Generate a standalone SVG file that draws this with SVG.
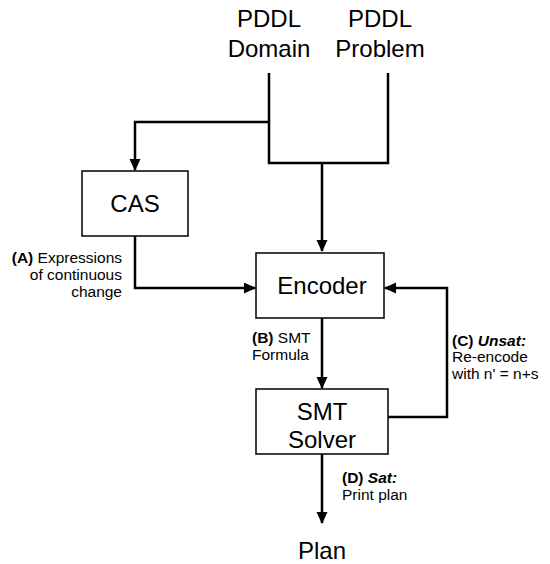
<svg xmlns="http://www.w3.org/2000/svg" width="550" height="564" viewBox="0 0 550 564">
<defs>
<marker id="ah" markerWidth="12" markerHeight="12" refX="11" refY="5.5" orient="auto" markerUnits="userSpaceOnUse"><path d="M0,0 L12,5.5 L0,11 z" fill="#000"/></marker>
<style>
.box{fill:#fff;stroke:#000;stroke-width:1.5}
.big{font-family:"Liberation Sans",Arial,sans-serif;font-size:24px;fill:#000;text-anchor:middle}
.lbl{font-family:"Liberation Sans",Arial,sans-serif;font-size:15.5px;fill:#000}
.ln{fill:none;stroke:#000;stroke-width:2.5}
</style>
</defs>
<rect width="550" height="564" fill="#fff"/>
<g id="connectors">
<path class="ln" d="M269,73 V163 H388 V73"/>
<path class="ln" d="M322,163 V251" marker-end="url(#ah)"/>
<path class="ln" d="M269,122 H135 V170" marker-end="url(#ah)"/>
<path class="ln" d="M135,236 V288 H255" marker-end="url(#ah)"/>
<path class="ln" d="M322,318 V388" marker-end="url(#ah)"/>
<path class="ln" d="M388,417 H447 V288 H385" marker-end="url(#ah)"/>
<path class="ln" d="M322,454 V523" marker-end="url(#ah)"/>
</g>
<g id="pddl-domain"><text class="big" x="269" y="27">PDDL</text><text class="big" x="269" y="57">Domain</text></g>
<g id="pddl-problem"><text class="big" x="380" y="27">PDDL</text><text class="big" x="380" y="57">Problem</text></g>
<g id="cas"><rect class="box" x="82" y="171" width="106" height="65"/><text class="big" x="135" y="212">CAS</text></g>
<g id="encoder"><rect class="box" x="256" y="253" width="128" height="65"/><text class="big" x="322" y="294">Encoder</text></g>
<g id="smt-solver"><rect class="box" x="256" y="389" width="132" height="65"/><text class="big" x="322" y="420">SMT</text><text class="big" x="322" y="448">Solver</text></g>
<g id="plan"><text class="big" x="322" y="559">Plan</text></g>
<g id="labels">
<text class="lbl" text-anchor="end" x="122" y="263"><tspan font-weight="bold">(A)</tspan> Expressions</text>
<text class="lbl" text-anchor="end" x="122" y="280">of continuous</text>
<text class="lbl" text-anchor="end" x="122" y="297">change</text>
<text class="lbl" x="252" y="343"><tspan font-weight="bold">(B)</tspan> SMT</text>
<text class="lbl" x="252" y="360">Formula</text>
<text class="lbl" x="452" y="346"><tspan font-weight="bold">(C) <tspan font-style="italic">Unsat:</tspan></tspan></text>
<text class="lbl" x="452" y="362">Re-encode</text>
<text class="lbl" x="452" y="379">with n' = n+s</text>
<text class="lbl" x="342" y="483"><tspan font-weight="bold">(D) <tspan font-style="italic">Sat:</tspan></tspan></text>
<text class="lbl" x="342" y="500">Print plan</text>
</g>
</svg>
